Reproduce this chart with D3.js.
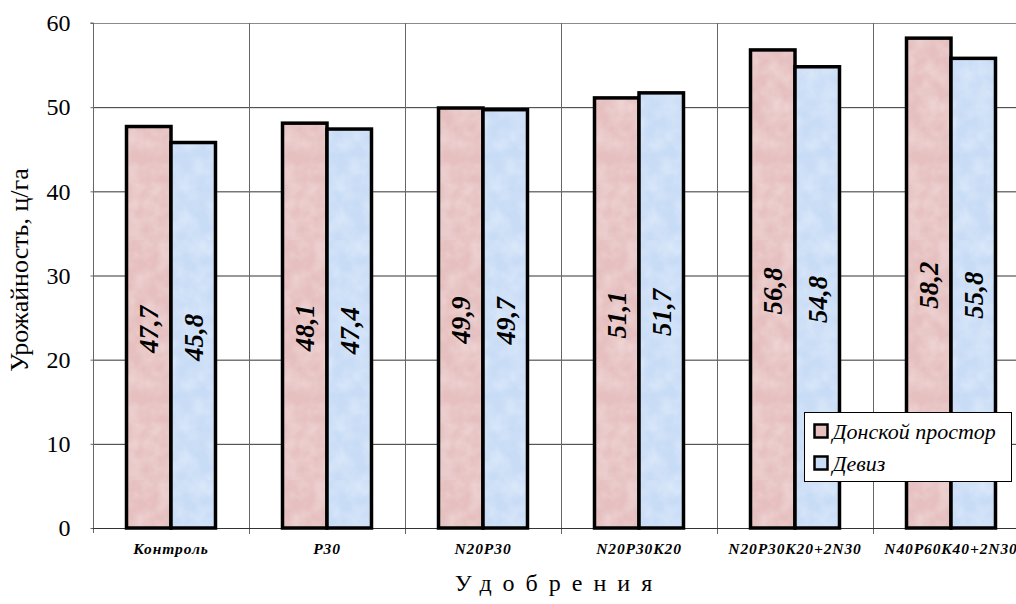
<!DOCTYPE html>
<html><head><meta charset="utf-8">
<script src="https://cdn.jsdelivr.net/npm/d3@7"></script>
<style>html,body{margin:0;padding:0;background:#fff;overflow:hidden}</style>
</head><body>
<svg id="c" width="1016" height="604" font-family="Liberation Serif"></svg>
<script>
const categories = ["Контроль","P30","N20P30","N20P30K20","N20P30K20+2N30","N40P60K40+2N30"];
const seriesNames = ["Донской простор","Девиз"];
const donskoy = [47.7,48.1,49.9,51.1,56.8,58.2];
const deviz = [45.8,47.4,49.7,51.7,54.8,55.8];
const yTicks = [0,10,20,30,40,50,60];
const seriesValues = [donskoy, deviz];
const fillIds = ["texPink","texBlue"];
const baseColors = ["#e6bfbf","#c8dcf6"];

(function(){
const FAM = "Liberation Serif";
const setFont = sel => sel.attr("font-family",FAM);
const svg = d3.select("#c");
const defs = svg.append("defs");
const filt = defs.append("filter").attr("id","noise").attr("x",0).attr("y",0).attr("width","100%").attr("height","100%");
filt.append("feTurbulence").attr("type","fractalNoise").attr("baseFrequency",0.06).attr("numOctaves",3).attr("seed",4);
filt.append("feColorMatrix").attr("type","matrix")
  .attr("values","0 0 0 0 1  0 0 0 0 1  0 0 0 0 1  0 0 0 -1.6 1.1");
fillIds.forEach((id,i)=>{
  const p = defs.append("pattern").attr("id",id).attr("patternUnits","userSpaceOnUse").attr("width",240).attr("height",240);
  p.append("rect").attr("width",240).attr("height",240).attr("fill",baseColors[i]);
  p.append("rect").attr("width",240).attr("height",240).attr("filter","url(#noise)").attr("opacity",0.35);
});

const padL = 93, catW = 156, padT = 23, baseY = 528;
const x = d3.scaleBand().domain(categories).range([padL, padL + catW*categories.length]).padding(0);
const xs = d3.scaleBand().domain(seriesNames).range([0, catW]).paddingInner(0).paddingOuter(0.753);
const y = d3.scaleLinear().domain([0,60]).range([baseY, padT]);

svg.append("g").selectAll("line").data(yTicks.filter(t=>t>0)).join("line")
  .attr("x1",padL).attr("x2",1016).attr("y1",d=>y(d)+0.5).attr("y2",d=>y(d)+0.5)
  .attr("stroke",d=>d===60?"#8a8a8a":"#333").attr("stroke-width",1);
const bounds = categories.map(c=>x(c)).concat([padL+catW*categories.length]);
svg.append("g").selectAll("line").data(bounds.slice(1)).join("line")
  .attr("x1",d=>d+0.5).attr("x2",d=>d+0.5).attr("y1",padT).attr("y2",baseY+6)
  .attr("stroke","#666").attr("stroke-width",1);

const yAxis = d3.axisLeft(y).tickValues(yTicks).tickSize(3).tickPadding(20).tickFormat(d3.format("d"));
const ga = svg.append("g").attr("transform",`translate(${padL+0.5},0)`).call(yAxis);
ga.attr("font-family",FAM);
ga.select(".domain").attr("stroke","#666").attr("d",`M-3,${padT}H0V${baseY+5}`);
ga.selectAll(".tick line").attr("stroke","#666");
setFont(ga.selectAll("text")).attr("font-size",24).attr("fill","#000").attr("dy","0.32em");

const xAxis = d3.axisBottom(x).tickSize(0).tickPadding(14);
const gx = svg.append("g").attr("transform",`translate(0,${baseY+0.5})`).call(xAxis);
gx.attr("font-family",FAM);
gx.select(".domain").attr("stroke","#333").attr("d",`M${padL},0H1016`);
setFont(gx.selectAll("text")).attr("font-size",15.5)
  .attr("font-weight","bold").attr("font-style","italic").attr("fill","#000").attr("letter-spacing","0.9px");

const groups = svg.append("g").selectAll("g").data(categories).join("g")
  .attr("transform",c=>`translate(${x(c)},0)`);
seriesNames.forEach((s,si)=>{
  groups.append("rect")
    .attr("x",()=>xs(s))
    .attr("y",(c,i)=>y(seriesValues[si][i]))
    .attr("width",xs.bandwidth())
    .attr("height",(c,i)=>y(0)-y(seriesValues[si][i]))
    .attr("fill",`url(#${fillIds[si]})`)
    .attr("stroke","#000").attr("stroke-width",3.5);
});
seriesNames.forEach((s,si)=>{
  setFont(groups.append("text"))
    .attr("transform",(c,i)=>{
      const v = seriesValues[si][i];
      const cx = xs(s)+xs.bandwidth()/2;
      const cy = (y(v)+y(0))/2 + 2;
      return `translate(${cx},${cy}) rotate(-90)`;
    })
    .attr("text-anchor","middle").attr("dy","0.35em")
    .attr("font-size",27)
    .attr("font-weight","bold").attr("font-style","italic")
    .text((c,i)=>String(seriesValues[si][i]).replace(".",","));
});

const lg = svg.append("g").attr("transform","translate(804.5,412.5)");
lg.append("rect").attr("width",207).attr("height",69).attr("fill","#fff").attr("stroke","#000").attr("stroke-width",1);
seriesNames.forEach((s,si)=>{
  const row = lg.append("g").attr("transform",`translate(0,${12+si*32})`);
  row.append("rect").attr("x",10).attr("y",0).attr("width",13).attr("height",13)
    .attr("fill",baseColors[si]).attr("stroke","#000").attr("stroke-width",2.5);
  setFont(row.append("text")).attr("x",28).attr("y",7).attr("dy","0.35em")
    .attr("font-size",22).attr("font-style","italic")
    .text(s);
});

setFont(svg.append("text")).attr("transform","translate(28,270) rotate(-90)").attr("text-anchor","middle")
  .attr("font-size",26).text("Урожайность, ц/га");
setFont(svg.append("text")).attr("x",559).attr("y",591).attr("text-anchor","middle").attr("letter-spacing","11px")
  .attr("font-size",24).text("Удобрения");
})();
</script>
</body></html>
